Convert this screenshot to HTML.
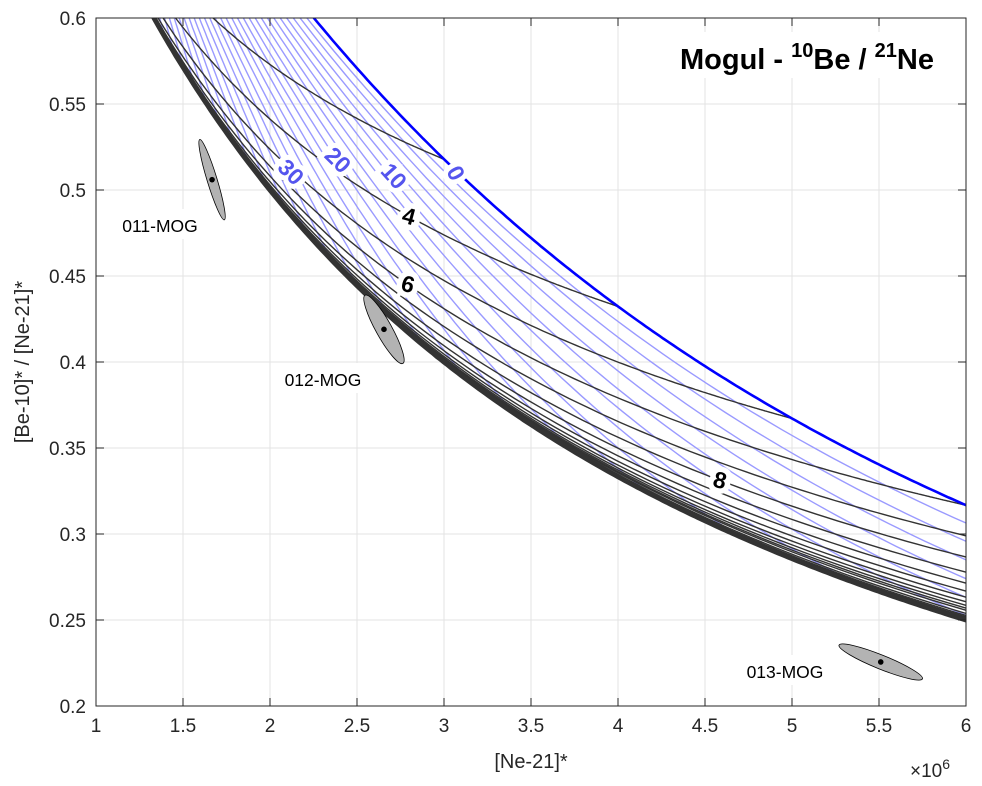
<!DOCTYPE html>
<html><head><meta charset="utf-8"><style>
html,body{margin:0;padding:0;background:#fff;width:982px;height:786px;overflow:hidden;}
svg{display:block;font-family:"Liberation Sans",Arial,sans-serif;}
</style></head><body>
<svg id="chart" width="982" height="786" viewBox="0 0 982 786">
<defs><clipPath id="clip"><rect x="96" y="18" width="870" height="688"/></clipPath></defs>
<rect x="0" y="0" width="982" height="786" fill="#fff"/>
<g id="grid"></g>
<g id="curves" clip-path="url(#clip)"></g>
<g id="ann"></g>
<g id="axes"></g>
</svg>
<script>
// ---- data ----
const xTicks = [1,1.5,2,2.5,3,3.5,4,4.5,5,5.5,6];
const xTickLabels = ["1","1.5","2","2.5","3","3.5","4","4.5","5","5.5","6"];
const yTicks = [0.2,0.25,0.3,0.35,0.4,0.45,0.5,0.55,0.6];
const yTickLabels = ["0.2","0.25","0.3","0.35","0.4","0.45","0.5","0.55","0.6"];
const erosionRates = [2,4,6,8,10,12,14,16,18,20,22,24,26,28,30,32,34,36,38,40,42,44,46,48,50,52,54,56,58,60,62,64,66,68,70];
const burialTimes = [3,4,5,6,7,8,9,10,11,12,13,14,15,16,18,20,22,25,30,40,60,100];
const sampleNames = ["011-MOG","012-MOG","013-MOG"];
const sampleNe = [1.667,2.655,5.51];
const sampleRatio = [0.506,0.419,0.2256];
const erosionLabels = [0,10,20,30];
const timeLabels = [4,6,8];

// ---- model ----
const LAMBDA = 0.5, P_BE = 1.0, P_NE = 1.0, MU_PER_EROSION = 0.0133;
function model(mu, t){
  const x = mu === 0 ? P_NE * t : P_NE * (1 - Math.exp(-mu * t)) / mu;
  const be = P_BE * (1 - Math.exp(-(LAMBDA + mu) * t)) / (LAMBDA + mu);
  return [x, be / x];
}
// ---- axes ----
const X0 = 96, X1 = 966, Y0 = 706, Y1 = 18;
const sx = v => X0 + (v - 1) / 5 * (X1 - X0);
const sy = v => Y0 - (v - 0.2) / 0.4 * (Y0 - Y1);
const NS = "http://www.w3.org/2000/svg";
function mk(tag, attrs, parent){ const el = document.createElementNS(NS, tag); for (const k in attrs) el.setAttribute(k, attrs[k]); parent.appendChild(el); return el; }
const grid = document.getElementById('grid'), curves = document.getElementById('curves'), ann = document.getElementById('ann'), axes = document.getElementById('axes');

xTicks.forEach((v,i) => {
  const g = mk('line', {x1:sx(v), x2:sx(v), y1:Y1, y2:Y0, stroke:'#e3e3e3', 'stroke-width':1}, grid);
  
  
  mk('line', {x1:sx(v), x2:sx(v), y1:Y0, y2:Y0-8, stroke:'#262626', 'stroke-width':1}, axes);
  mk('line', {x1:sx(v), x2:sx(v), y1:Y1, y2:Y1+8, stroke:'#262626', 'stroke-width':1}, axes);
  const t = mk('text', {x:sx(v), y:732, 'font-size':19, fill:'#262626', 'text-anchor':'middle'}, axes);
  t.textContent = xTickLabels[i];
  
  
});
yTicks.forEach((v,i) => {
  const g = mk('line', {x1:X0, x2:X1, y1:sy(v), y2:sy(v), stroke:'#e3e3e3', 'stroke-width':1}, grid);
  
  
  mk('line', {x1:X0, x2:X0+8, y1:sy(v), y2:sy(v), stroke:'#262626', 'stroke-width':1}, axes);
  mk('line', {x1:X1, x2:X1-8, y1:sy(v), y2:sy(v), stroke:'#262626', 'stroke-width':1}, axes);
  const t = mk('text', {x:86, y:sy(v)+7, 'font-size':19, fill:'#262626', 'text-anchor':'end'}, axes);
  t.textContent = yTickLabels[i];
  
  
});
const box = mk('rect', {x:X0, y:Y1, width:X1-X0, height:Y0-Y1, fill:'none', stroke:'#262626', 'stroke-width':1}, axes);


const xl = mk('text', {x:531, y:768, 'font-size':20, fill:'#262626', 'text-anchor':'middle'}, axes);
xl.textContent = '[Ne-21]*';


const yl = mk('text', {x:0, y:0, 'font-size':20, fill:'#262626', 'text-anchor':'middle', transform:'translate(29,362) rotate(-90)'}, axes);
yl.textContent = '[Be-10]* / [Ne-21]*';


const ex = mk('text', {x:910, y:777, 'font-size':19, fill:'#262626'}, axes);
ex.innerHTML = '×10<tspan dy="-8" font-size="14">6</tspan>';



function pathFrom(pts){ return pts.map((p,i)=>(i?'L':'M')+sx(p[0]).toFixed(1)+','+sy(p[1]).toFixed(1)).join(''); }
// erosion (blue) lines: fixed mu, vary t
erosionRates.forEach(e => {
  const mu = e * MU_PER_EROSION, pts = [];
  for (let t = 0.3; t < 400; t *= 1.02) { const p = model(mu, t); if (p[1] < 0.75) pts.push(p); }
  const l = mk('path', {d:pathFrom(pts), fill:'none', stroke:'#9a9aff', 'stroke-width':1.4}, curves);
  
  
});
// time (black) lines: fixed t, vary mu
burialTimes.forEach(t => {
  const pts = [model(0, t)];
  for (let mu = 0.001; mu < 6; mu *= 1.03) { const p = model(mu, t); if (p[1] < 0.75) pts.push(p); }
  const l = mk('path', {d:pathFrom(pts), fill:'none', stroke:'#333', 'stroke-width':1.4}, curves);
  
  
});
// steady state
{
  const pts = [];
  for (let x = 1.0; x <= 6.5; x += 0.02) { const mu = P_NE / x; pts.push([x, (P_BE/(LAMBDA+mu))/x]); }
  const l = mk('path', {d:pathFrom(pts), fill:'none', stroke:'#333', 'stroke-width':5}, curves);
  
  
}
// zero erosion
{
  const pts = [];
  for (let t = 1.5; t <= 7; t += 0.02) pts.push(model(0, t));
  const l = mk('path', {d:pathFrom(pts), fill:'none', stroke:'#0000ff', 'stroke-width':2.6}, curves);
  
  
}
// contour labels
const eLabelPos = [[456,173,62],[394,176,48],[338,160,45],[291,172,45]];
erosionLabels.forEach((v,i) => {
  const [x,y,r] = eLabelPos[i];
  const t = mk('text', {x:x, y:y+8, 'font-size':23, 'font-weight':'bold', fill:'#5555ee', 'text-anchor':'middle', stroke:'#fff', 'stroke-width':10, 'paint-order':'stroke', transform:`rotate(${r} ${x} ${y})`}, ann);
  t.textContent = v;
  
  
});
const tLabelPos = [[409,216,15],[408,284,15],[720,480,15]];
timeLabels.forEach((v,i) => {
  const [x,y,r] = tLabelPos[i];
  const t = mk('text', {x:x, y:y+8, 'font-size':23, 'font-weight':'bold', fill:'#000', 'text-anchor':'middle', stroke:'#fff', 'stroke-width':11, 'paint-order':'stroke', transform:`rotate(${r} ${x} ${y})`}, ann);
  t.textContent = v;
  
  
});
// samples
const ellShape = [[42,5,73],[39,8,61],[45,7,22]];
const labPos = [[160,226],[323,380],[785,672]];
sampleNames.forEach((n,i) => {
  const cx = sx(sampleNe[i]), cy = sy(sampleRatio[i]);
  const [a,b,r] = ellShape[i];
  const e = mk('ellipse', {cx:cx, cy:cy, rx:a, ry:b, fill:'#b3b3b3', stroke:'#000', 'stroke-width':0.8, transform:`rotate(${r} ${cx} ${cy})`}, ann);
  
  
  const d = mk('circle', {cx:cx, cy:cy, r:2.8, fill:'#000'}, ann);
  
  
  const [lx,ly] = labPos[i];
  const bg = mk('rect', {x:lx-50, y:ly-17, width:100, height:30, fill:'#fff'}, ann);
  
  
  const t = mk('text', {x:lx, y:ly+6, 'font-size':17.5, fill:'#000', 'text-anchor':'middle'}, ann);
  t.textContent = n;
  
  
});
// title
const tb = mk('rect', {x:668, y:32, width:292, height:46, fill:'#fff'}, ann);


const tt = mk('text', {x:680, y:69, 'font-size':29, 'font-weight':'bold', fill:'#000'}, ann);
tt.innerHTML = 'Mogul - <tspan dy="-12" font-size="20">10</tspan><tspan dy="12">Be / </tspan><tspan dy="-12" font-size="20">21</tspan><tspan dy="12">Ne</tspan>';


</script>
</body></html>
